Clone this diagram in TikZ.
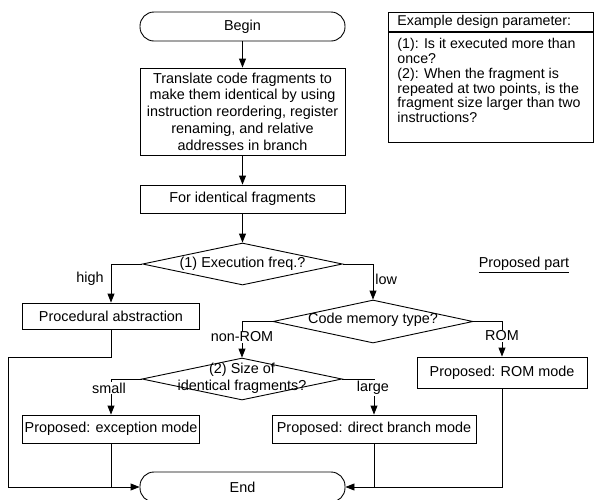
\documentclass[tikz,border=0pt]{standalone}
\usepackage{fontspec}
\setmainfont{Liberation Sans}
\usetikzlibrary{arrows.meta,shapes.geometric}
\begin{document}
\begin{tikzpicture}[x=1pt,y=-1pt, line width=0.9pt,
  font=\fontsize{14.4}{16.7}\selectfont,
  box/.style={draw, rectangle, inner sep=0pt, align=center},
  term/.style={draw, rectangle, rounded corners=14pt, minimum width=205pt, minimum height=29pt, inner sep=0pt},
  diam/.style={draw, diamond, inner sep=0pt, minimum width=200pt, minimum height=42pt},
  arr/.style={-{Triangle[length=9pt,width=7pt]}},
  lbl/.style={fill=white, inner sep=1pt},
  small/.style={font=\fontsize{14.2}{14.8}\selectfont}]
\useasboundingbox (0,0) rectangle (595,499);

% main column
\node[term] (begin) at (242.5,26.5) {Begin};
\node[box, minimum width=205pt, minimum height=87pt] (trans) at (242.5,111.5)
  {Translate code fragments to\\make them identical by using\\instruction reordering, register\\renaming, and relative\\addresses in branch};
\node[box, minimum width=205pt, minimum height=28pt] (ident) at (242.5,199) {For identical fragments};

\node[diam] (d1) at (242.5,264) {};
\node (d1t) at (242.5,264) {(1) Execution freq.?};

\node[diam, minimum height=43pt] (d2) at (373,321.5) {};
\node (d2t) at (373,319.5) {Code memory type?};

\node[diam] (d3) at (242,379) {};
\node[align=center] (d3t) at (242,378.5) {(2) Size of\\identical fragments?};

\node[box, minimum width=177pt, minimum height=26pt] (proc) at (111,316) {Procedural abstraction};
\node[box, minimum width=177pt, minimum height=28pt] (exc) at (111,429) {Proposed: exception mode};
\node[box, minimum width=204pt, minimum height=28pt] (direct) at (374,429) {Proposed: direct branch mode};
\node[box, minimum width=170pt, minimum height=31pt] (rom) at (502,372.5) {Proposed: ROM mode};
\node[term, minimum height=30pt] (end) at (242.5,487) {End};

% example box
\node[draw, rectangle, anchor=north west, minimum width=205pt, minimum height=19pt, inner sep=0pt] (exhead) at (388,12) {};
\node[small, anchor=west, inner sep=0pt] (exheadt) at (397,21.5) {Example design parameter:};
\node[draw, rectangle, anchor=north west, minimum width=205pt, minimum height=110pt, inner sep=0pt] (exbody) at (exhead.south west) {};
\node[small, anchor=north west, align=left, inner sep=0pt] (exbodyt) at (397,38)
  {(1): Is it executed more than\\once?\\(2): When the fragment is\\repeated at two points, is the\\fragment size larger than two\\instructions?};

\node (prop) at (524,265) {\underline{Proposed part}};

% connectors
\coordinate (j1) at (8,357);
\draw[arr] (begin) -- (trans);
\draw[arr] (trans) -- (ident);
\draw[arr] (ident) -- (d1.north);
\draw[arr] (d1.west) -| (proc.north);
\draw[arr] (d1.east) -| (d2.north);
\draw[arr] (proc.south) |- (j1) |- (end.west);
\draw (exc.south) -- (exc.south |- end.west);
\draw[arr] (d2.west) -| (d3.north);
\draw[arr] (d2.east) -| (rom.north);
\draw[arr] (d3.west) -| (exc.north);
\draw[arr] (d3.east) -| (direct.north);
\draw (direct.south) -- (direct.south |- end.east);
\draw[arr] (rom.south) |- (end.east);

% branch labels
\node[anchor=east, inner sep=0pt] (lhigh) at (104,279) {high};
\node[anchor=west, inner sep=0pt] (llow) at (375,279) {low};
\node[lbl] (lnonrom) at (242,337) {non-ROM};
\node[lbl] (lrom) at (502,336) {ROM};
\node[lbl] (lsmall) at (109,388) {small};
\node[lbl] (llarge) at (373,388) {large};
\end{tikzpicture}
\end{document}
